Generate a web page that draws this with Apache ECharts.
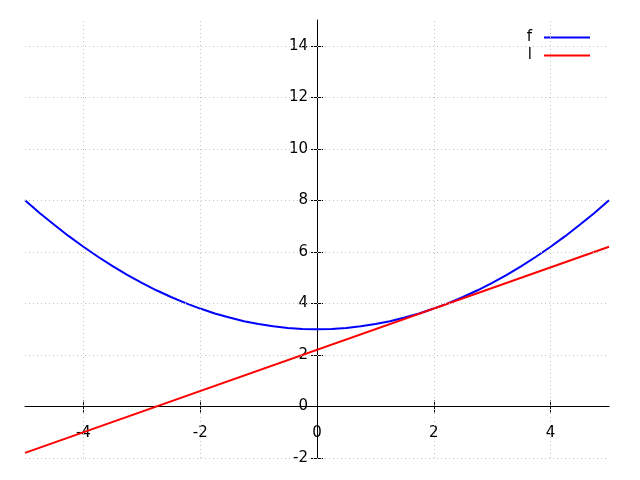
<!DOCTYPE html>
<html>
<head>
<meta charset="utf-8">
<script src="https://cdn.jsdelivr.net/npm/echarts@6/dist/echarts.min.js"></script>
<style>html,body{margin:0;padding:0;background:#fff}#c{width:640px;height:480px}</style>
</head>
<body>
<div id="c"></div>
<script>
var xVals = [-5,-4.75,-4.5,-4.25,-4,-3.75,-3.5,-3.25,-3,-2.75,-2.5,-2.25,-2,-1.75,-1.5,-1.25,-1,-0.75,-0.5,-0.25,0,0.25,0.5,0.75,1,1.25,1.5,1.75,2,2.25,2.5,2.75,3,3.25,3.5,3.75,4,4.25,4.5,4.75,5];
var fVals = [8,7.51,7.05,6.61,6.2,5.81,5.45,5.11,4.8,4.51,4.25,4.01,3.8,3.61,3.45,3.31,3.2,3.11,3.05,3.01,3,3.01,3.05,3.11,3.2,3.31,3.45,3.61,3.8,4.01,4.25,4.51,4.8,5.11,5.45,5.81,6.2,6.61,7.05,7.51,8];
var lX = [-5, 5];
var lVals = [-1.8, 6.2];
var xTicks = [-4,-2,0,2,4];
var yTicks = [-2,0,2,4,6,8,10,12,14];
var xRange = [-5, 5];
var yRange = [-2, 15];

var fData = xVals.map(function(x,i){return [x,fVals[i]];});
var lData = lX.map(function(x,i){return [x,lVals[i]];});

// layout (pixels)
var G = {left:25, right:31, top:20, bottom:22, w:640, h:480};
var plotW = G.w - G.left - G.right, plotH = G.h - G.top - G.bottom;
// shift axes so they sit at the origin
var xAxisOffset = -plotH * (0 - yRange[0]) / (yRange[1] - yRange[0]);
var yAxisOffset = -plotW * (0 - xRange[0]) / (xRange[1] - xRange[0]);

var font = {fontFamily:'DejaVu Sans', fontSize:15, color:'#000'};
var gridLineStyle = {color:'#c4c4c4', width:1, type:[1,3]};
var gridMarks = [];
xTicks.forEach(function(v){ if(v!==0) gridMarks.push({xAxis:v}); });
yTicks.forEach(function(v){ if(v!==0) gridMarks.push({yAxis:v}); });

function xa(main){
  return {type:'value', position:'bottom', offset:xAxisOffset, min:xRange[0], max:xRange[1],
    axisLine:{show:main, onZero:false, lineStyle:{color:'#000',width:1}},
    axisTick:{show:true, inside:!main, length:6, customValues:xTicks, lineStyle:{color:'#000',width:1}},
    axisLabel:Object.assign({show:main, margin:19, customValues:xTicks}, font),
    splitLine:{show:false}};
}
function ya(main){
  return {type:'value', position:'left', offset:yAxisOffset, min:yRange[0], max:yRange[1],
    axisLine:{show:main, onZero:false, lineStyle:{color:'#000',width:1}},
    axisTick:{show:true, inside:!main, length:6, customValues:yTicks, lineStyle:{color:'#000',width:1}},
    axisLabel:Object.assign({show:main, margin:9, customValues:yTicks}, font),
    splitLine:{show:false}};
}

var chart = echarts.init(document.getElementById('c'), null, {renderer:'canvas'});
chart.setOption({
  animation:false,
  backgroundColor:'#fff',
  grid:{left:G.left, right:G.right, top:G.top, bottom:G.bottom, containLabel:false, outerBoundsMode:'none'},
  xAxis:[xa(true), xa(false)],
  yAxis:[ya(true), ya(false)],
  legend:{
    orient:'vertical', right:45, top:25, align:'right',
    itemWidth:46, itemHeight:2, itemGap:3, icon:'rect',
    textStyle:{fontFamily:'DejaVu Sans', fontSize:15, color:'#000', padding:[0,7,0,0]},
    data:['f','l']
  },
  series:[
    {type:'line', name:'grid', data:[], silent:true,
     markLine:{silent:true, symbol:'none', label:{show:false}, lineStyle:gridLineStyle, data:gridMarks}},
    {type:'line', name:'f', data:fData, showSymbol:false, symbol:'none', smooth:false,
     lineStyle:{color:'#0000ff', width:2}, itemStyle:{color:'#0000ff'}, z:3},
    {type:'line', name:'l', data:lData, showSymbol:false, symbol:'none',
     lineStyle:{color:'#ff0000', width:2}, itemStyle:{color:'#ff0000'}, z:4}
  ]
});
</script>
</body>
</html>
